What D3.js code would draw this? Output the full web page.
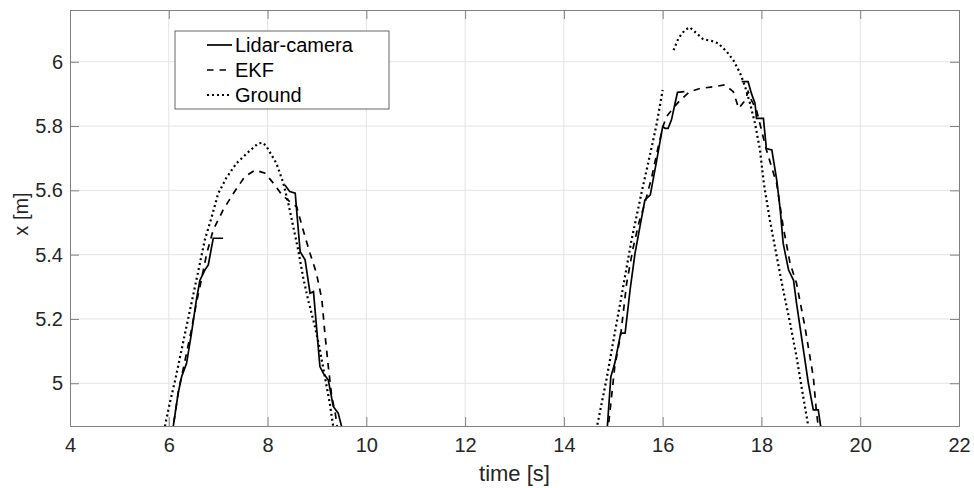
<!DOCTYPE html>
<meta charset="utf-8">
<script src="https://d3js.org/d3.v7.min.js"></script>
<style>
  body { margin: 0; background: #fff; }
  text { font-family: "Liberation Sans", Arial, sans-serif; fill: #262626; }
</style>
<div id="chart"></div>
<script>
// x position vs time, null = gap in the series
var groundTime = [5.90, 5.92, 6.02, 6.13, 6.23, 6.33, 6.43, 6.53, 6.63, 6.73, 6.87, 7.00, 7.17, 7.37, 7.58, 7.81, 7.91, 7.98, 8.18, 8.32, 8.42, 8.52, 8.62, 8.72, 8.82, 8.96, 9.06, 9.16, 9.26, 9.33, 9.35, null,
  14.66, 14.67, 14.86, 15.03, 15.20, 15.37, 15.57, 15.78, 15.88, 16.00, null,
  16.22, 16.32, 16.45, 16.55, 16.69, 16.82, 16.99, 17.13, 17.30, 17.43, 17.57, 17.67, 17.77, 17.87, 17.97, 18.05, 18.17, 18.31, 18.44, 18.58, 18.71, 18.81, 18.95, 18.97];
var groundX = [4.835, 4.865, 4.938, 5.01, 5.083, 5.156, 5.228, 5.30, 5.373, 5.446, 5.518, 5.59, 5.64, 5.684, 5.715, 5.746, 5.748, 5.736, 5.684, 5.622, 5.56, 5.487, 5.415, 5.33, 5.26, 5.176, 5.104, 5.02, 4.938, 4.865, 4.84, null,
  4.84, 4.865, 5.01, 5.156, 5.30, 5.446, 5.591, 5.736, 5.808, 5.912, null,
  6.036, 6.073, 6.099, 6.107, 6.088, 6.07, 6.065, 6.057, 6.031, 6.005, 5.964, 5.922, 5.87, 5.808, 5.726, 5.62, 5.508, 5.394, 5.29, 5.187, 5.083, 4.99, 4.865, 4.84];

var lidarTime = [6.07, 6.09, 6.19, 6.26, 6.36, 6.46, 6.56, 6.63, 6.73, 6.80, 6.90, 7.10, null,
  8.35, 8.45, 8.56, 8.66, 8.76, 8.86, 8.93, 9.06, 9.13, 9.23, 9.33, 9.43, 9.50, 9.52, null,
  14.87, 14.88, 14.95, 15.03, 15.15, 15.24, 15.34, 15.44, 15.54, 15.64, 15.75, 15.88, 16.00, 16.05, 16.11, 16.18, 16.25, 16.30, 16.44, null,
  17.60, 17.73, 17.80, 17.87, 17.90, 18.04, 18.10, 18.21, 18.31, 18.38, 18.44, 18.55, 18.65, 18.71, 18.81, 18.95, 19.05, 19.15, 19.20, 19.22];
var lidarX = [4.84, 4.865, 4.969, 5.02, 5.062, 5.156, 5.26, 5.32, 5.352, 5.368, 5.451, 5.451, null,
  5.617, 5.596, 5.591, 5.409, 5.384, 5.28, 5.285, 5.052, 5.031, 5.01, 4.928, 4.907, 4.865, 4.84, null,
  4.84, 4.865, 5.02, 5.062, 5.156, 5.156, 5.29, 5.404, 5.487, 5.57, 5.586, 5.694, 5.798, 5.793, 5.793, 5.82, 5.87, 5.905, 5.907, null,
  5.938, 5.938, 5.90, 5.87, 5.824, 5.824, 5.73, 5.726, 5.632, 5.54, 5.435, 5.352, 5.32, 5.249, 5.145, 5.00, 4.917, 4.917, 4.865, 4.84];

var ekfTime = [6.08, 6.09, 6.20, 6.30, 6.45, 6.56, 6.63, 6.77, 6.90, 7.10, 7.31, 7.54, 7.75, 7.95, 8.12, 8.29, 8.45, 8.59, 8.72, 8.86, 8.99, 9.10, 9.16, 9.23, 9.30, 9.37, 9.41, 9.43, null,
  14.88, 14.90, 15.03, 15.15, 15.27, 15.40, 15.52, 15.64, 15.78, 15.91, 16.01, 16.08, 16.21, 16.35, 16.55, 16.76, 17.02, 17.26, 17.43, 17.54, 17.67, 17.73, 17.80, 17.90, 18.10, 18.31, 18.44, 18.58, 18.71, 18.88, 19.05, 19.11, 19.15, 19.17];
var ekfX = [4.84, 4.865, 4.98, 5.05, 5.16, 5.25, 5.30, 5.404, 5.477, 5.539, 5.591, 5.643, 5.663, 5.653, 5.622, 5.586, 5.565, 5.549, 5.477, 5.404, 5.342, 5.26, 5.156, 5.052, 4.959, 4.907, 4.865, 4.84, null,
  4.84, 4.865, 5.052, 5.15, 5.31, 5.42, 5.50, 5.56, 5.642, 5.736, 5.80, 5.83, 5.855, 5.88, 5.907, 5.917, 5.922, 5.928, 5.907, 5.855, 5.88, 5.907, 5.88, 5.85, 5.726, 5.62, 5.487, 5.373, 5.311, 5.176, 5.02, 4.917, 4.865, 4.84];

var xTicks = [4, 6, 8, 10, 12, 14, 16, 18, 20, 22];
var yTicks = [5, 5.2, 5.4, 5.6, 5.8, 6];
var legendNames = ["Lidar-camera", "EKF", "Ground"];

var margin = {top: 10, right: 15, bottom: 62, left: 70},
    width = 974 - margin.left - margin.right,
    height = 488 - margin.top - margin.bottom;

var svg = d3.select("#chart")
  .append("svg")
    .attr("width", 974)
    .attr("height", 488)
  .append("g")
    .attr("transform", "translate(" + margin.left + "," + margin.top + ")");

var x = d3.scaleLinear().domain([4, 22]).range([0, width]);
var y = d3.scaleLinear().domain([4.867, 6.161]).range([height, 0]);

// grid
svg.append("g").selectAll("line").data(xTicks.slice(1, -1)).enter().append("line")
  .attr("x1", d => x(d)).attr("x2", d => x(d))
  .attr("y1", 0).attr("y2", height)
  .style("stroke", "#e3e3e3");
svg.append("g").selectAll("line").data(yTicks).enter().append("line")
  .attr("x1", 0).attr("x2", width)
  .attr("y1", d => y(d)).attr("y2", d => y(d))
  .style("stroke", "#e3e3e3");

// curves
svg.append("clipPath").attr("id", "clip")
  .append("rect").attr("width", width).attr("height", height);

function zip(ts, vs) { return ts.map((t, i) => [t, vs[i]]); }

var line = d3.line()
  .defined(d => d[0] != null && d[1] != null)
  .x(d => x(d[0]))
  .y(d => y(d[1]));

var series = [
  {data: zip(lidarTime, lidarX), dash: null},
  {data: zip(ekfTime, ekfX), dash: "6.5,6"},
  {data: zip(groundTime, groundX), dash: "2,3"}
];

var plot = svg.append("g").attr("clip-path", "url(#clip)");
series.forEach(function(s) {
  plot.append("path")
    .datum(s.data)
    .attr("d", line)
    .style("fill", "none")
    .style("stroke", "#000")
    .style("stroke-width", s.dash == "2,3" ? 2.2 : 1.7)
    .style("stroke-dasharray", s.dash);
});

// axes with inward ticks on all sides
var axisColor = "#808080";
var gx = svg.append("g")
  .attr("transform", "translate(0," + height + ")")
  .call(d3.axisBottom(x).tickValues(xTicks).tickSize(-9).tickPadding(12).tickFormat(d3.format("d")));
var gy = svg.append("g")
  .call(d3.axisLeft(y).tickValues(yTicks).tickSize(-9).tickPadding(7).tickFormat(d => d == 5 || d == 6 ? d : d3.format(".1f")(d)));
var gt = svg.append("g")
  .call(d3.axisTop(x).tickValues(xTicks).tickSize(-9).tickFormat(""));
var gr = svg.append("g")
  .attr("transform", "translate(" + width + ",0)")
  .call(d3.axisRight(y).tickValues(yTicks).tickSize(-9).tickFormat(""));

[gx, gy, gt, gr].forEach(function(g) {
  g.selectAll(".domain").style("stroke", axisColor);
  g.selectAll(".tick line").style("stroke", axisColor);
  g.selectAll(".tick text")
    .style("font-size", "20px")
    .style("font-family", "'Liberation Sans', Arial, sans-serif")
    .style("fill", "#262626");
});

svg.append("text")
  .attr("x", width / 2)
  .attr("y", height + 55)
  .attr("text-anchor", "middle")
  .style("font-size", "22px")
  .text("time [s]");

svg.append("text")
  .attr("transform", "translate(" + (21 - margin.left) + "," + (214 - margin.top) + ") rotate(-90)")
  .attr("text-anchor", "middle")
  .attr("dy", "0.35em")
  .style("font-size", "20px")
  .text("x [m]");

// legend
var legend = svg.append("g").attr("transform", "translate(" + (175 - margin.left) + "," + (31 - margin.top) + ")");
legend.append("rect")
  .attr("width", 214).attr("height", 78)
  .style("fill", "#fff")
  .style("stroke", "#666");
legendNames.forEach(function(name, i) {
  var ly = 14 + i * 25;
  legend.append("line")
    .attr("x1", 32).attr("x2", 57)
    .attr("y1", ly).attr("y2", ly)
    .style("stroke", "#000")
    .style("stroke-width", series[i].dash == "2,3" ? 2.2 : 1.7)
    .style("stroke-dasharray", series[i].dash);
  legend.append("text")
    .attr("x", 60).attr("y", ly)
    .attr("dy", "0.35em")
    .style("font-size", "20px")
    .style("fill", "#000")
    .text(name);
});
</script>
